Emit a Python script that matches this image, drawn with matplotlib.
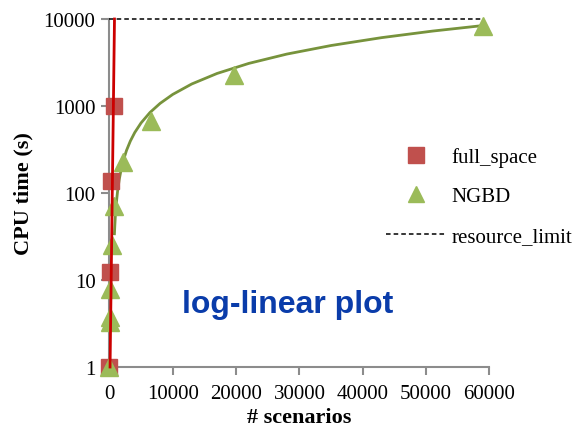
import matplotlib
matplotlib.use("Agg")
import matplotlib.pyplot as plt
from matplotlib.lines import Line2D

# full_space runs
fs_x = [0, 100, 250, 775]
fs_y = [1, 12.4, 138, 1000]
# exponential trend line of full_space (two ends)
fs_trend_x = [100, 800]
fs_trend_y = [1, 10000]

# NGBD runs
ng_x = [0, 50, 50, 60, 360, 730, 2200, 6570, 19730, 59000]
ng_y = [1, 3.3, 3.8, 7.9, 25, 71, 227, 674, 2270, 8310]
# NGBD trend curve
ng_trend_x = [790, 850, 950, 1100, 1300, 1550, 1850, 2200, 2700, 3300, 4000,
              5000, 6400, 8000, 10000, 13000, 17000, 22000, 28000, 35000,
              43000, 51000, 59000]
ng_trend_y = [34, 42, 57, 78, 107, 143, 186, 237, 309, 395, 496,
              640, 842, 1072, 1360, 1792, 2368, 3088, 3952, 4960,
              6112, 7264, 8416]

limit_x = [0, 59000]
limit_y = [10000, 10000]

plt.rcParams['font.family'] = ['Liberation Serif', 'DejaVu Serif']

fig = plt.figure(figsize=(5.75, 4.35), dpi=100)
ax = fig.add_axes([0.1903, 0.154, 0.661, 0.8])

ax.plot(limit_x, limit_y, color='black', linestyle=(0, (3, 2)), linewidth=1.1,
        clip_on=False, zorder=2)
ax.plot(ng_trend_x, ng_trend_y, color='#77933C', linewidth=2, zorder=3)
ax.plot(fs_x, fs_y, linestyle='none', marker='s', markersize=12,
        color='#C0504D', clip_on=False, zorder=4)
ax.plot(ng_x, ng_y, linestyle='none', marker='^', markersize=13,
        color='#9BBB59', clip_on=False, zorder=5)
ax.plot(fs_trend_x, fs_trend_y, color='#CC0000', linewidth=2,
        clip_on=False, zorder=6)

ax.set_yscale('log')
ax.set_ylim(1, 10000)
ax.set_xlim(0, 60000)
ax.set_yticks([1, 10, 100, 1000, 10000])
ax.set_yticklabels(['1', '10', '100', '1000', '10000'])
ax.set_xticks(range(0, 60001, 10000))
ax.minorticks_off()

for s in ['top', 'right']:
    ax.spines[s].set_visible(False)
for s in ['left', 'bottom']:
    ax.spines[s].set_color('#8C8C8C')
    ax.spines[s].set_linewidth(1.5)
    ax.spines[s].set_zorder(1)
ax.tick_params(axis='both', colors='#8C8C8C', width=1.5, length=6)
ax.tick_params(axis='y', labelcolor='black', labelsize=15, pad=4)
ax.tick_params(axis='x', labelcolor='black', labelsize=15, pad=6)

ax.set_ylabel('CPU time (s)', fontsize=16, fontweight='bold', labelpad=7)
ax.set_xlabel('# scenarios', fontsize=16, fontweight='bold', labelpad=3)

ax.text(0.19, 0.18, 'log-linear plot', transform=ax.transAxes,
        family='Liberation Sans', fontsize=23, fontweight='bold',
        color='#0A3CAA', ha='left', va='center')

handles = [
    Line2D([], [], linestyle='none', marker='s', markersize=11, color='#C0504D'),
    Line2D([], [], linestyle='none', marker='^', markersize=12, color='#9BBB59'),
    Line2D([], [], color='black', linestyle=(0, (3, 2)), linewidth=1.1),
]
ax.legend(handles, ['full_space', 'NGBD', 'resource_limit'],
          loc='center left', bbox_to_anchor=(0.678, 0.49), frameon=False,
          fontsize=15, handlelength=2.9, handletextpad=0.25, labelspacing=0.95)

fig.savefig('out.png', dpi=100)
